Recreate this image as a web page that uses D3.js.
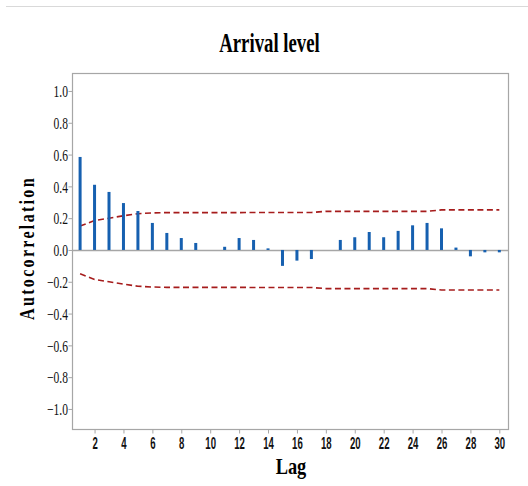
<!DOCTYPE html>
<html>
<head>
<meta charset="utf-8">
<script src="https://cdn.jsdelivr.net/npm/d3@7"></script>
<style>
  body { margin: 0; background: #fff; }
  text { font-family: "Liberation Serif", "DejaVu Serif", serif; }
</style>
</head>
<body>
<div class="acf-canvas"></div>
<script>
// lags and autocorrelation values
const lags = d3.range(1, 31);
const acf = [0.585, 0.41, 0.365, 0.295, 0.245, 0.17, 0.107, 0.075, 0.044, 0.0,
             0.02, 0.075, 0.063, 0.01, -0.1, -0.067, -0.057, 0.0, 0.063, 0.08,
             0.113, 0.08, 0.12, 0.155, 0.17, 0.136, 0.015, -0.04, -0.015, -0.015];
// upper 5% significance limit (lower one is the mirror)
const limit = [0.15, 0.185, 0.2, 0.215, 0.228, 0.233, 0.235, 0.235, 0.235, 0.235,
               0.235, 0.235, 0.236, 0.236, 0.236, 0.236, 0.236, 0.243, 0.243, 0.243,
               0.243, 0.243, 0.243, 0.243, 0.243, 0.252, 0.252, 0.252, 0.252, 0.252];
const yTicks = [-1.0, -0.8, -0.6, -0.4, -0.2, 0.0, 0.2, 0.4, 0.6, 0.8, 1.0];
const xTicks = d3.range(2, 31, 2);

const dims = { width: 528, height: 486 };
const plot = { left: 72, top: 73, right: 508, bottom: 429 };

const svg = d3.select('.acf-canvas')
    .append('svg')
    .attr('width', dims.width)
    .attr('height', dims.height);

// thin rule at the very top
svg.append('line')
    .attr('x1', 6).attr('x2', 528).attr('y1', 6.5).attr('y2', 6.5)
    .attr('stroke', '#d9d9d9').attr('stroke-width', 1);

const x = d3.scaleLinear().domain([0.44, 30.6]).range([plot.left, plot.right]);
const y = d3.scaleLinear().domain([-1.126, 1.113]).range([plot.bottom, plot.top]);

//frame
svg.append('rect')
    .attr('x', plot.left + 0.5).attr('y', plot.top + 0.5)
    .attr('width', plot.right - plot.left).attr('height', plot.bottom - plot.top)
    .attr('fill', 'none').attr('stroke', '#a6a6a6').attr('stroke-width', 1.2);

//zero line
svg.append('line')
    .attr('x1', plot.left).attr('x2', plot.right)
    .attr('y1', Math.round(y(0)) + 0.5).attr('y2', Math.round(y(0)) + 0.5)
    .attr('stroke', '#a6a6a6').attr('stroke-width', 1.3);

//axes
const yAxis = svg.append('g')
    .attr('transform', `translate(${plot.left + 0.5},0)`)
    .call(d3.axisLeft(y).tickValues(yTicks).tickFormat(d3.format('.1f')).tickSize(4));

const xAxis = svg.append('g')
    .attr('transform', `translate(0,${plot.bottom + 0.5})`)
    .call(d3.axisBottom(x).tickValues(xTicks).tickSize(4));

[yAxis, xAxis].forEach(ax => {
    ax.select('.domain').remove();
    ax.selectAll('line').attr('stroke', '#a6a6a6');
    ax.selectAll('text').attr('fill', '#111');
});

// condensed tick labels
const ySx = 0.68;
yAxis.selectAll('.tick text')
    .attr('font-size', 17)
    .style('font-family', '"Liberation Serif", serif')
    .attr('text-anchor', 'end')
    .attr('dy', '0.34em')
    .attr('transform', `scale(${ySx},1)`)
    .attr('x', -4.5 / ySx);

const xSx = 0.6;
xAxis.selectAll('.tick text')
    .attr('font-size', 16)
    .attr('font-weight', 'bold')
    .style('font-family', '"Liberation Sans", sans-serif')
    .attr('transform', `scale(${xSx},1)`)
    .attr('x', 0)
    .attr('y', 20)
    .attr('dy', 0);

//confidence limits
const limLine = d3.line()
    .x((d, i) => x(lags[i]))
    .y(d => y(d));

[1, -1].forEach(s => {
    svg.append('path')
        .datum(limit.map(v => v * s))
        .attr('d', limLine)
        .attr('fill', 'none')
        .attr('stroke', '#a61c1c')
        .attr('stroke-width', 1.6)
        .attr('stroke-dasharray', '6,3.5');
});

//acf bars
svg.selectAll('rect.bar')
    .data(acf.map((v, i) => ({ lag: lags[i], v })))
    .enter()
    .append('rect')
        .attr('class', 'bar')
        .attr('x', d => x(d.lag) - 1.5)
        .attr('width', 3)
        .attr('y', d => y(Math.max(0, d.v)))
        .attr('height', d => Math.abs(y(d.v) - y(0)))
        .attr('fill', '#1660b0');

//titles
svg.append('text')
    .attr('x', 269.5).attr('y', 52.5)
    .attr('text-anchor', 'middle')
    .attr('font-size', 28).attr('font-weight', 'bold')
    .attr('transform', 'translate(269.5,0) scale(0.67,1) translate(-269.5,0)')
    .text('Arrival level');

svg.append('text')
    .attr('x', 291).attr('y', 474.5)
    .attr('text-anchor', 'middle')
    .attr('font-size', 23).attr('font-weight', 'bold')
    .attr('transform', 'translate(291,0) scale(0.8,1) translate(-291,0)')
    .text('Lag');

svg.append('text')
    .attr('transform', 'translate(34,248) rotate(-90) scale(0.8,1)')
    .attr('text-anchor', 'middle')
    .attr('font-size', 20).attr('font-weight', 'bold')
    .attr('letter-spacing', 2.9)
    .text('Autocorrelation');
</script>
</body>
</html>
